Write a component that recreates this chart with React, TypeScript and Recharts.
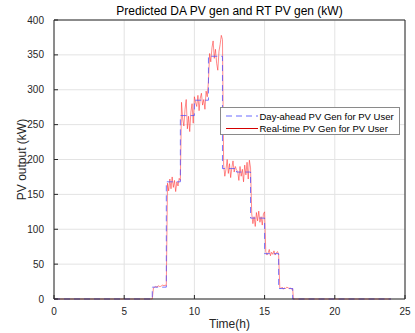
import React from 'react';
import { LineChart, Line, XAxis, YAxis, CartesianGrid, Legend, Label, ReferenceLine } from 'recharts';

// Day-ahead hourly values (kW), hours 0..24
const daHours = [0, 1, 2, 3, 4, 5, 6, 7, 8, 9, 10, 11, 12, 13, 14, 15, 16, 17, 18, 19, 20, 21, 22, 23, 24];
const daValues = [0, 0, 0, 0, 0, 0, 0, 17, 168, 263, 285, 348, 187, 182, 116, 65, 15, 0, 0, 0, 0, 0, 0, 0, 0];

// Real-time 5-minute values (kW) for the producing hours 7..16
const rtHours = [7, 8, 9, 10, 11, 12, 13, 14, 15, 16];
const rtH7 = [16, 17, 18, 17, 19, 18, 18, 19, 20, 19, 20, 19];
const rtH8 = [166, 155, 172, 158, 175, 160, 170, 154, 168, 162, 173, 170];
const rtH9 = [282, 258, 248, 272, 286, 244, 262, 240, 268, 280, 252, 290];
const rtH10 = [282, 276, 292, 270, 288, 295, 278, 286, 272, 298, 290, 312];
const rtH11 = [352, 340, 360, 370, 345, 358, 338, 328, 355, 365, 378, 372];
const rtH12 = [192, 176, 186, 200, 180, 194, 174, 188, 198, 182, 190, 185];
const rtH13 = [183, 170, 190, 176, 186, 168, 192, 178, 196, 172, 199, 188];
const rtH14 = [122, 108, 118, 104, 124, 112, 126, 110, 118, 106, 122, 125];
const rtH15 = [68, 63, 66, 71, 62, 67, 64, 69, 63, 66, 68, 64];
const rtH16 = [16, 15, 17, 14, 16, 15, 17, 16, 15, 16, 14, 15];
const rtByHour = [rtH7, rtH8, rtH9, rtH10, rtH11, rtH12, rtH13, rtH14, rtH15, rtH16];

const xTicks = [0, 5, 10, 15, 20, 25];
const yTicks = [0, 50, 100, 150, 200, 250, 300, 350, 400];

const daData = daHours.map((t, i) => ({ t, da: daValues[i] }));
const rtData: { t: number; rt: number }[] = [{ t: 0, rt: 0 }, { t: 7, rt: 0 }];
rtHours.forEach((h, hi) => {
  rtByHour[hi].forEach((v, k) => {
    rtData.push({ t: h + (k + 1) / 12, rt: v });
  });
});
rtData.push({ t: 17.05, rt: 0 });
rtData.push({ t: 24, rt: 0 });

const FONT = '"Liberation Sans", Arial, Helvetica, sans-serif';
const AX = '#262626';

const renderLegend = () => (
  <div
    style={{
      width: 180,
      height: 28,
      boxSizing: 'border-box',
      border: '1px solid #8a8a8a',
      background: '#fff',
      position: 'relative',
    }}
  >
    <svg width={178} height={26} style={{ position: 'absolute', left: 0, top: 0 }}>
      <line x1={5} x2={37} y1={8} y2={8} stroke="#6b6bff" strokeWidth={1} strokeDasharray="6 4" />
      <line x1={5} x2={37} y1={20.5} y2={20.5} stroke="#d40000" strokeWidth={1} />
      <text x={38.5} y={11.5} fontSize={9.5} fontFamily={FONT} fill="#000">Day-ahead PV Gen for PV User</text>
      <text x={38.5} y={24} fontSize={9.5} fontFamily={FONT} fill="#000">Real-time PV Gen for PV User</text>
    </svg>
  </div>
);

export default function App() {
  return (
    <div style={{ position: 'absolute', left: 0, top: 0, width: 415, height: 333, background: '#fff' }}>
      <LineChart width={415} height={333} margin={{ top: 20, right: 10, bottom: 0, left: 0 }}>
        <CartesianGrid stroke="#e3e3e3" strokeWidth={1} />
        <XAxis
          dataKey="t"
          type="number"
          domain={[0, 25]}
          ticks={xTicks}
          allowDataOverflow
          height={34}
          stroke={AX}
          tickSize={-4}
          tickMargin={13}
          tick={{ fill: AX, fontSize: 10, fontFamily: FONT }}
        >
          <Label
            content={() => (
              <g>
                <text x={229.5} y={328} textAnchor="middle" fontSize={12} fontFamily={FONT} fill={AX}>
                  Time(h)
                </text>
                <text x={229.5} y={15} textAnchor="middle" fontSize={12} fontFamily={FONT} fill="#000">
                  Predicted DA PV gen and RT PV gen (kW)
                </text>
              </g>
            )}
          />
        </XAxis>
        <YAxis
          type="number"
          domain={[0, 400]}
          ticks={yTicks}
          width={54}
          stroke={AX}
          tickSize={-4}
          tickMargin={14}
          tick={{ fill: AX, fontSize: 10, fontFamily: FONT }}
        >
          <Label
            content={() => (
              <text
                x={21.5}
                y={159.5}
                textAnchor="middle"
                dominantBaseline="central"
                transform="rotate(-90 21.5 159.5)"
                fontSize={12}
                fontFamily={FONT}
                fill={AX}
              >
                PV output (kW)
              </text>
            )}
          />
        </YAxis>
        <ReferenceLine y={400} stroke={AX} strokeWidth={1} />
        <ReferenceLine x={25} stroke={AX} strokeWidth={1} />
        <Legend
          layout="vertical"
          align="center"
          verticalAlign="middle"
          content={renderLegend}
          wrapperStyle={{ left: 220, top: 107, width: 180, height: 28 }}
        />
        <Line
          data={rtData}
          dataKey="rt"
          name="Real-time PV Gen for PV User"
          type="linear"
          stroke="#ff2020"
          strokeOpacity={0.65}
          strokeWidth={0.8}
          dot={false}
          isAnimationActive={false}
        />
        <Line
          data={daData}
          dataKey="da"
          name="Day-ahead PV Gen for PV User"
          type="stepAfter"
          stroke="#4b4bff"
          strokeOpacity={0.75}
          strokeWidth={1}
          strokeDasharray="6 4"
          dot={false}
          isAnimationActive={false}
        />
      </LineChart>
    </div>
  );
}
